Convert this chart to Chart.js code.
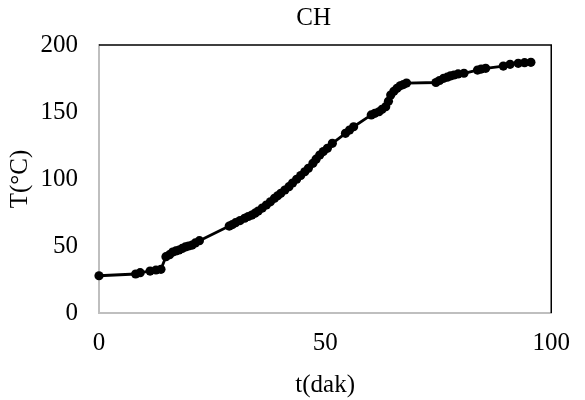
<!DOCTYPE html>
<html>
<head>
<meta charset="utf-8">
<script src="https://cdn.jsdelivr.net/npm/chart.js@4/dist/chart.umd.min.js"></script>
<style>
html,body{margin:0;padding:0;background:#fff;}
#wrap{width:585px;height:400px;}
</style>
</head>
<body>
<div id="wrap"><canvas id="c" width="585" height="400"></canvas></div>
<script>
const tMin = [0, 8.1, 9.1, 11.3, 12.6, 13.7, 14.8, 15.6, 16.3, 17.0, 17.7, 18.4, 19.1, 19.8, 20.6, 21.3, 22.2,
  28.8, 29.5, 30.2, 31.2, 32.2, 33.0, 33.8, 34.5, 35.2, 36.1, 37.0, 37.9, 38.8, 39.5, 40.2, 41.1, 42.0, 42.8,
  43.7, 44.6, 45.5, 46.3, 47.3, 48.0, 48.8, 49.6, 50.5, 51.6, 54.5, 55.4, 56.3, 60.2, 61.0, 61.9, 62.6, 63.4,
  64.0, 64.5, 65.2, 65.9, 66.6, 67.3, 68.0, 74.5, 75.3, 76.2, 77.0, 77.7, 78.5, 79.4, 80.7, 83.7, 84.5, 85.5,
  89.4, 90.9, 92.7, 94.1, 95.5];
const tempC = [27.8, 29.1, 30.1, 31.3, 32.1, 32.6, 42.0, 43.5, 45.5, 46.3, 47.0, 48.2, 49.3, 50.0, 50.7, 52.3, 54.0,
  64.9, 66.0, 67.4, 69.0, 70.7, 72.0, 73.1, 74.5, 76.1, 78.3, 80.6, 83.0, 85.6, 87.5, 89.3, 91.8, 94.3, 97.0,
  99.8, 102.6, 105.4, 108.0, 111.7, 114.8, 117.9, 120.5, 122.9, 126.6, 134.1, 136.5, 139.0, 147.8, 149.0, 150.2, 152.0, 154.0,
  158.0, 162.7, 165.5, 167.7, 169.5, 170.5, 171.6, 172.0, 173.5, 175.1, 176.0, 176.9, 177.6, 178.4, 178.9, 181.3, 182.0, 182.6,
  184.3, 185.6, 186.3, 186.8, 187.1];
const xTicks = [0, 50, 100];
const yTicks = [0, 50, 100, 150, 200];
const chartTitle = 'CH';
const xTitle = 't(dak)';
const yTitle = 'T(°C)';

const points = tMin.map((t, i) => ({x: t, y: tempC[i]}));
const serif = "'Liberation Serif', 'Times New Roman', serif";

const frame = {
  id: 'frame',
  afterLayout(chart) {
    const tb = chart.titleBlock;
    if (tb) {
      tb.left = chart.chartArea.left - 23;
      tb.right = chart.chartArea.right;
    }
  },
  afterDatasetsDraw(chart) {
    const {ctx, chartArea: a} = chart;
    ctx.save();
    ctx.strokeStyle = '#000';
    ctx.lineWidth = 1.5;
    ctx.beginPath();
    ctx.moveTo(a.left, a.top);
    ctx.lineTo(a.right, a.top);
    ctx.lineTo(a.right, a.bottom);
    ctx.stroke();
    ctx.restore();
  }
};

new Chart(document.getElementById('c'), {
  type: 'scatter',
  data: {
    datasets: [{
      data: points,
      showLine: true,
      borderColor: '#000',
      backgroundColor: '#000',
      borderWidth: 2.8,
      pointRadius: 4.6,
      pointBorderWidth: 0,
      pointBackgroundColor: '#000',
      clip: false
    }]
  },
  options: {
    responsive: false,
    animation: false,
    layout: {padding: {left: 0, right: 19, top: 0, bottom: 0}},
    plugins: {
      legend: {display: false},
      tooltip: {enabled: false},
      title: {
        display: true,
        text: chartTitle,
        color: '#000',
        font: {family: serif, size: 25, weight: 'normal'},
        padding: {top: 3.5, bottom: 11.5}
      }
    },
    scales: {
      x: {
        type: 'linear',
        min: 0, max: 100,
        afterFit(s) { s.height = 87; },
        afterBuildTicks(s) { s.ticks = xTicks.map(v => ({value: v})); },
        grid: {display: false, drawTicks: false},
        border: {display: true, color: '#bfbfbf', width: 2},
        ticks: {color: '#000', font: {family: serif, size: 25}, padding: 15, maxRotation: 0},
        title: {display: true, text: xTitle, color: '#000', font: {family: serif, size: 25}, padding: {top: 0, bottom: 0}}
      },
      y: {
        type: 'linear',
        min: 0, max: 200,
        afterFit(s) { s.width = 99; },
        afterBuildTicks(s) { s.ticks = yTicks.map(v => ({value: v})); },
        grid: {display: false, drawTicks: false},
        border: {display: true, color: '#bfbfbf', width: 2},
        ticks: {color: '#000', font: {family: serif, size: 25}, padding: 21},
        title: {display: true, text: yTitle, color: '#000', font: {family: serif, size: 25}, padding: {top: 5.5, bottom: 5.5}}
      }
    }
  },
  plugins: [frame]
});
</script>
</body>
</html>
